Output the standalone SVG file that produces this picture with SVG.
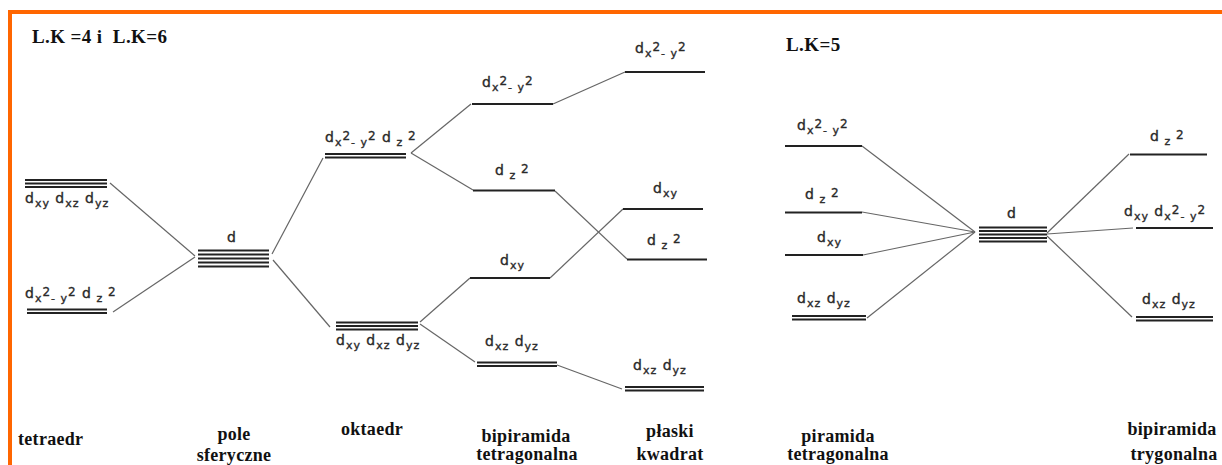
<svg xmlns="http://www.w3.org/2000/svg" width="1222" height="465" viewBox="0 0 1222 465">
<style>
.bg{fill:#ffffff}
.or{fill:#ff6600}
.lv{stroke:#222;stroke-width:2;fill:none}
.cn{stroke:#666;stroke-width:1.2;fill:none}
.lb{font-family:"DejaVu Sans",sans-serif;font-size:14px;fill:#2a2a2a;stroke:#2a2a2a;stroke-width:0.35;letter-spacing:1px}
.s{font-size:11px}
.p{font-size:12px}
.tt{font-family:"Liberation Serif",serif;font-weight:bold;font-size:19px;fill:#111;white-space:pre;letter-spacing:0.4px}
.cap{font-family:"Liberation Serif",serif;font-weight:bold;font-size:18px;fill:#111;text-anchor:middle;letter-spacing:0.3px}
</style>
<rect class="bg" x="0" y="0" width="1222" height="465"/>
<g id="frame">
<rect class="or" x="8" y="10" width="1214" height="4"/>
<rect class="or" x="8" y="10" width="4" height="455"/>
</g>
<text class="tt" x="32" y="43">L.K =4 i  L.K=6</text>
<text class="tt" x="786" y="51">L.K=5</text>

<g id="connectors">
<line class="cn" x1="110" y1="183" x2="195" y2="256"/>
<line class="cn" x1="113" y1="312" x2="195" y2="257"/>
<line class="cn" x1="272" y1="254" x2="323" y2="158"/>
<line class="cn" x1="273" y1="260" x2="330" y2="327"/>
<line class="cn" x1="411" y1="153" x2="471" y2="104"/>
<line class="cn" x1="411" y1="153" x2="473" y2="190"/>
<line class="cn" x1="420" y1="322" x2="470" y2="278"/>
<line class="cn" x1="420" y1="324" x2="475" y2="362"/>
<line class="cn" x1="553" y1="104" x2="625" y2="72"/>
<line class="cn" x1="555" y1="191" x2="627" y2="259"/>
<line class="cn" x1="550" y1="278" x2="623" y2="209"/>
<line class="cn" x1="557" y1="365" x2="622" y2="389"/>
<line class="cn" x1="862" y1="146" x2="975" y2="232"/>
<line class="cn" x1="862" y1="212" x2="975" y2="232"/>
<line class="cn" x1="863" y1="255" x2="975" y2="232"/>
<line class="cn" x1="867" y1="318" x2="975" y2="232"/>
<line class="cn" x1="1047" y1="233" x2="1129" y2="154"/>
<line class="cn" x1="1047" y1="234" x2="1133" y2="228"/>
<line class="cn" x1="1047" y1="236" x2="1132" y2="317"/>
</g>

<!-- tetraedr -->
<g id="tet-t2">
<line class="lv" x1="25" y1="180" x2="107" y2="180"/>
<line class="lv" x1="25" y1="183.5" x2="107" y2="183.5"/>
<line class="lv" x1="25" y1="187" x2="107" y2="187"/>
<text class="lb" x="25" y="203">d<tspan class="s" dy="4">xy</tspan><tspan dy="-4"> d</tspan><tspan class="s" dy="4">xz</tspan><tspan dy="-4"> d</tspan><tspan class="s" dy="4">yz</tspan></text>
</g>
<g id="tet-e">
<line class="lv" x1="27" y1="309.5" x2="107" y2="309.5"/>
<line class="lv" x1="27" y1="313" x2="107" y2="313"/>
<text class="lb" x="25" y="298">d<tspan class="s" dy="4">x</tspan><tspan class="p" dy="-6">2</tspan><tspan class="s" dy="6">- y</tspan><tspan class="p" dy="-6">2</tspan><tspan dy="2"> d</tspan><tspan class="s" dy="4"> z</tspan><tspan class="p" dy="-6"> 2</tspan></text>
</g>

<!-- pole sferyczne -->
<g id="sph-d">
<line class="lv" x1="198" y1="250.5" x2="269" y2="250.5"/>
<line class="lv" x1="198" y1="254.5" x2="269" y2="254.5"/>
<line class="lv" x1="198" y1="258.5" x2="269" y2="258.5"/>
<line class="lv" x1="198" y1="262.5" x2="269" y2="262.5"/>
<line class="lv" x1="198" y1="266.5" x2="269" y2="266.5"/>
<text class="lb" x="227" y="242">d</text>
</g>

<!-- oktaedr -->
<g id="okt-eg">
<line class="lv" x1="325" y1="154" x2="406" y2="154"/>
<line class="lv" x1="325" y1="157.5" x2="406" y2="157.5"/>
<text class="lb" x="325" y="142">d<tspan class="s" dy="4">x</tspan><tspan class="p" dy="-6">2</tspan><tspan class="s" dy="6">- y</tspan><tspan class="p" dy="-6">2</tspan><tspan dy="2"> d</tspan><tspan class="s" dy="4"> z</tspan><tspan class="p" dy="-6"> 2</tspan></text>
</g>
<g id="okt-t2g">
<line class="lv" x1="336" y1="322.5" x2="418" y2="322.5"/>
<line class="lv" x1="336" y1="326" x2="418" y2="326"/>
<line class="lv" x1="336" y1="329.5" x2="418" y2="329.5"/>
<text class="lb" x="336" y="345">d<tspan class="s" dy="4">xy</tspan><tspan dy="-4"> d</tspan><tspan class="s" dy="4">xz</tspan><tspan dy="-4"> d</tspan><tspan class="s" dy="4">yz</tspan></text>
</g>

<!-- bipiramida tetragonalna -->
<g id="bt-x2y2">
<line class="lv" x1="472" y1="104" x2="553" y2="104"/>
<text class="lb" x="482" y="87">d<tspan class="s" dy="4">x</tspan><tspan class="p" dy="-6">2</tspan><tspan class="s" dy="6">- y</tspan><tspan class="p" dy="-6">2</tspan></text>
</g>
<g id="bt-z2">
<line class="lv" x1="473" y1="190.5" x2="555" y2="190.5"/>
<text class="lb" x="495" y="175">d<tspan class="s" dy="4"> z</tspan><tspan class="p" dy="-6"> 2</tspan></text>
</g>
<g id="bt-xy">
<line class="lv" x1="470" y1="278" x2="550" y2="278"/>
<text class="lb" x="500" y="265">d<tspan class="s" dy="4">xy</tspan></text>
</g>
<g id="bt-xzyz">
<line class="lv" x1="477" y1="362.5" x2="557" y2="362.5"/>
<line class="lv" x1="477" y1="366" x2="557" y2="366"/>
<text class="lb" x="485" y="346">d<tspan class="s" dy="4">xz</tspan><tspan dy="-4"> d</tspan><tspan class="s" dy="4">yz</tspan></text>
</g>

<!-- plaski kwadrat -->
<g id="sq-x2y2">
<line class="lv" x1="625" y1="72" x2="705" y2="72"/>
<text class="lb" x="635" y="53">d<tspan class="s" dy="4">x</tspan><tspan class="p" dy="-6">2</tspan><tspan class="s" dy="6">- y</tspan><tspan class="p" dy="-6">2</tspan></text>
</g>
<g id="sq-xy">
<line class="lv" x1="623" y1="209" x2="703" y2="209"/>
<text class="lb" x="653" y="193">d<tspan class="s" dy="4">xy</tspan></text>
</g>
<g id="sq-z2">
<line class="lv" x1="627" y1="259.5" x2="707" y2="259.5"/>
<text class="lb" x="647" y="245">d<tspan class="s" dy="4"> z</tspan><tspan class="p" dy="-6"> 2</tspan></text>
</g>
<g id="sq-xzyz">
<line class="lv" x1="625" y1="387" x2="704" y2="387"/>
<line class="lv" x1="625" y1="390.5" x2="704" y2="390.5"/>
<text class="lb" x="633" y="370">d<tspan class="s" dy="4">xz</tspan><tspan dy="-4"> d</tspan><tspan class="s" dy="4">yz</tspan></text>
</g>

<!-- piramida tetragonalna -->
<g id="pt-x2y2">
<line class="lv" x1="785" y1="146" x2="862" y2="146"/>
<text class="lb" x="797" y="130">d<tspan class="s" dy="4">x</tspan><tspan class="p" dy="-6">2</tspan><tspan class="s" dy="6">- y</tspan><tspan class="p" dy="-6">2</tspan></text>
</g>
<g id="pt-z2">
<line class="lv" x1="785" y1="212.5" x2="862" y2="212.5"/>
<text class="lb" x="805" y="199">d<tspan class="s" dy="4"> z</tspan><tspan class="p" dy="-6"> 2</tspan></text>
</g>
<g id="pt-xy">
<line class="lv" x1="785" y1="255" x2="863" y2="255"/>
<text class="lb" x="817" y="242">d<tspan class="s" dy="4">xy</tspan></text>
</g>
<g id="pt-xzyz">
<line class="lv" x1="792" y1="316" x2="866" y2="316"/>
<line class="lv" x1="792" y1="319.5" x2="866" y2="319.5"/>
<text class="lb" x="797" y="303">d<tspan class="s" dy="4">xz</tspan><tspan dy="-4"> d</tspan><tspan class="s" dy="4">yz</tspan></text>
</g>

<!-- d (L.K=5) -->
<g id="lk5-d">
<line class="lv" x1="979" y1="227.5" x2="1047" y2="227.5"/>
<line class="lv" x1="979" y1="231" x2="1047" y2="231"/>
<line class="lv" x1="979" y1="234.5" x2="1047" y2="234.5"/>
<line class="lv" x1="979" y1="238" x2="1047" y2="238"/>
<line class="lv" x1="979" y1="241.5" x2="1047" y2="241.5"/>
<text class="lb" x="1007" y="218">d</text>
</g>

<!-- bipiramida trygonalna -->
<g id="bg-z2">
<line class="lv" x1="1130" y1="154.5" x2="1207" y2="154.5"/>
<text class="lb" x="1150" y="141">d<tspan class="s" dy="4"> z</tspan><tspan class="p" dy="-6"> 2</tspan></text>
</g>
<g id="bg-xy">
<line class="lv" x1="1136" y1="228" x2="1213" y2="228"/>
<text class="lb" x="1124" y="216">d<tspan class="s" dy="4">xy</tspan><tspan dy="-4">  d</tspan><tspan class="s" dy="4">x</tspan><tspan class="p" dy="-6">2</tspan><tspan class="s" dy="6">- y</tspan><tspan class="p" dy="-6">2</tspan></text>
</g>
<g id="bg-xzyz">
<line class="lv" x1="1136" y1="317" x2="1213" y2="317"/>
<line class="lv" x1="1136" y1="320.5" x2="1213" y2="320.5"/>
<text class="lb" x="1142" y="304">d<tspan class="s" dy="4">xz</tspan><tspan dy="-4"> d</tspan><tspan class="s" dy="4">yz</tspan></text>
</g>

<g id="captions">
<text class="cap" x="18" y="445" style="text-anchor:start">tetraedr</text>
<text class="cap" x="234" y="440">pole</text>
<text class="cap" x="234" y="461">sferyczne</text>
<text class="cap" x="372" y="435">oktaedr</text>
<text class="cap" x="526" y="442">bipiramida</text>
<text class="cap" x="527" y="460">tetragonalna</text>
<text class="cap" x="670" y="437">płaski</text>
<text class="cap" x="670" y="460">kwadrat</text>
<text class="cap" x="838" y="442">piramida</text>
<text class="cap" x="838" y="460">tetragonalna</text>
<text class="cap" x="1172" y="435">bipiramida</text>
<text class="cap" x="1174" y="460">trygonalna</text>
</g>
</svg>
